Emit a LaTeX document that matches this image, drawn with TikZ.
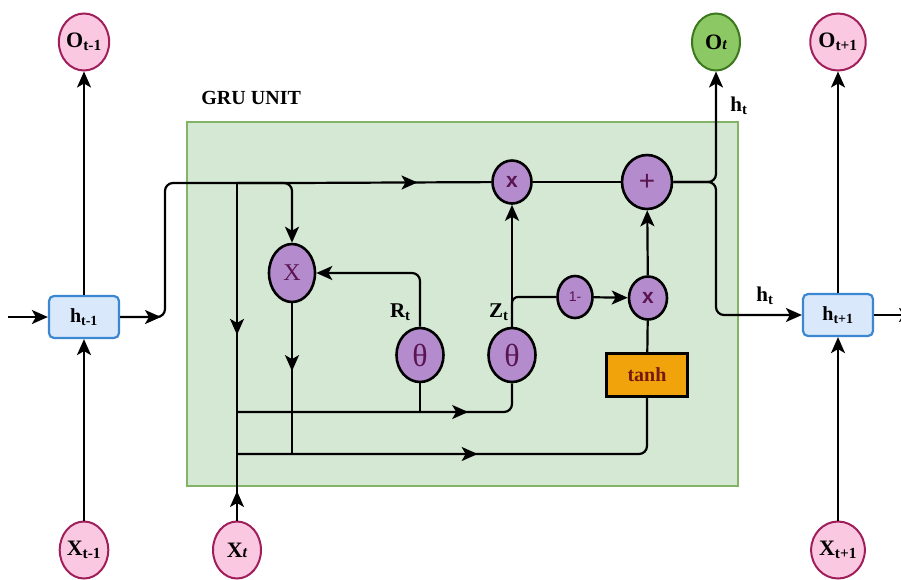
\documentclass[tikz,border=0pt]{standalone}
\usepackage{fontspec}
\setmainfont{Liberation Serif}
\setsansfont{Liberation Sans}
\usetikzlibrary{arrows.meta,shapes.geometric,decorations.markings}
\definecolor{boxfill}{RGB}{213,232,212}
\definecolor{boxline}{RGB}{130,179,102}
\definecolor{pinkfill}{RGB}{250,200,225}
\definecolor{pinkline}{RGB}{160,30,90}
\definecolor{ocfill}{RGB}{140,200,100}
\definecolor{ocline}{RGB}{60,120,30}
\definecolor{gatefill}{RGB}{180,140,205}
\definecolor{gatetext}{RGB}{90,20,80}
\definecolor{statefill}{RGB}{218,232,252}
\definecolor{stateline}{RGB}{60,135,210}
\definecolor{tanhfill}{RGB}{240,163,10}
\definecolor{tanhtext}{RGB}{120,25,15}
\newcommand{\fsz}[1]{\fontsize{#1}{#1}\selectfont}

\begin{document}
\begin{tikzpicture}[x=1pt,y=-1pt,line width=2.2pt,>={Stealth[length=16pt,width=14pt,inset=4pt]},
    io/.style={ellipse, draw=pinkline, line width=2pt, fill=pinkfill, inner sep=0pt,
               minimum width=48pt, minimum height=57pt, font=\fsz{22}\bfseries},
    outnode/.style={io, draw=ocline, fill=ocfill},
    state/.style={draw=stateline, line width=2.2pt, fill=statefill, rounded corners=5pt, inner sep=0pt,
                  minimum width=70pt, minimum height=42pt, font=\fsz{20}\bfseries},
    gate/.style={ellipse, draw=black, line width=2.6pt, fill=gatefill, inner sep=0pt, text=gatetext},
    lab/.style={font=\fsz{21}\bfseries},
    flow/.style={postaction={decorate}, decoration={markings, mark=at position #1 with {\arrow{>}}}}]
  \useasboundingbox (0,0) rectangle (901,579);
  \draw[boxline, fill=boxfill, line width=2.2pt] (187,122) rectangle (738,486);
  \node[font=\fsz{20}\bfseries, anchor=west] (title) at (197,98) {GRU UNIT};
  % ---- time steps ----
  \node[io] (oprev) at (84,42) {O\textsubscript{t-1}};
  \node[outnode] (ocur) at (716,42) {O{\fsz{16}\itshape t}};
  \node[io] (onext) at (838,42) {O\textsubscript{t+1}};
  \node[state] (hprev) at (84,317) {h\textsubscript{t-1}};
  \node[state] (hnext) at (838,315) {h\textsubscript{t+1}};
  \node[io] (xprev) at (84,550) {X\textsubscript{t-1}};
  \node[io] (xcur) at (237,550) {X{\fsz{16}\itshape t}};
  \node[io] (xnext) at (838,550) {X\textsubscript{t+1}};
  % ---- gates ----
  \node[gate, minimum width=46pt, minimum height=58pt, font=\fsz{24}] (mulr) at (292,273) {X};
  \node[gate, minimum width=47pt, minimum height=54pt, font=\fsz{32}] (thr) at (420,355) {θ};
  \node[gate, minimum width=47pt, minimum height=54pt, font=\fsz{32}] (thz) at (512,355) {θ};
  \node[gate, minimum width=39pt, minimum height=43pt, font=\sffamily\fsz{21}\bfseries] (mulz) at (512,182) {x};
  \node[gate, minimum width=50pt, minimum height=54pt, font=\sffamily\fsz{28}] (plus) at (647,182) {+};
  \node[gate, minimum width=35pt, minimum height=42pt, font=\sffamily\fsz{14}] (one) at (575,297) {1-};
  \node[gate, minimum width=38pt, minimum height=43pt, font=\sffamily\fsz{21}\bfseries] (mulh) at (648,298) {x};
  \node[draw, line width=2.4pt, fill=tanhfill, text=tanhtext, minimum width=81pt, minimum height=43pt,
        font=\fsz{20}\bfseries] (tanh) at (647,375) {tanh};
  \node[lab, anchor=east] (rt) at (415,312) {R\textsubscript{t}};
  \node[lab, anchor=east] (zt) at (513,312) {Z\textsubscript{t}};
  % ---- signals ----
  \coordinate (lin) at (8,317);
  \coordinate (rout) at (915,315);
  \coordinate (tin) at (161,317);
  \coordinate (tl) at (165,183);
  \coordinate (jc) at (237,183);
  \coordinate (jr) at (292,183);
  \coordinate (ja) at (237,412);
  \coordinate (jb) at (237,454);
  \coordinate (down) at (716,315);
  \draw[->] (lin) -- (hprev);
  \draw[->] (xprev) -- (hprev);
  \draw[->] (hprev) -- (oprev);
  \draw[->] (xnext) -- (hnext);
  \draw[->] (hnext) -- (onext);
  \draw[->] (hnext) -- (rout);
  \draw[rounded corners=8pt] (hprev.east) -- (tl |- hprev.east) -- (tl) -- (jr);
  \draw[->] (hprev.east) -- (tin);
  \draw[flow=0.63] (jr) -- (mulz);
  \draw[->, rounded corners=8pt] (jc) -- (jr) -- (mulr);
  \draw[postaction={decorate}, decoration={markings, mark=at position 0.45 with {\arrow{>}},
        mark=at position 0.96 with {\arrow{<}}}] (jc) -- (xcur);
  \draw[->, rounded corners=8pt] (thr) |- (mulr);
  \draw[flow=0.77, rounded corners=8pt] (ja) -| (thz);
  \draw (thr) -- (thr |- ja);
  \draw[flow=0.52, rounded corners=8pt] (jb) -| (tanh);
  \draw[flow=0.45] (mulr) -- (mulr |- jb);
  \draw[->] (thz) -- (mulz);
  \draw[rounded corners=6pt] (thz.north) |- (one);
  \draw[->] (one) -- (mulh);
  \draw (tanh) -- (mulh);
  \draw[->] (mulh) -- (plus);
  \draw (mulz) -- (plus);
  \draw[->, rounded corners=8pt] (plus) -| (ocur);
  \draw[->, rounded corners=8pt] (plus) -| (down) -- (hnext);
  \node[lab] (htup) at (739,106) {h\textsubscript{t}};
  \node[lab] (htright) at (765,296) {h\textsubscript{t}};
\end{tikzpicture}
\end{document}
